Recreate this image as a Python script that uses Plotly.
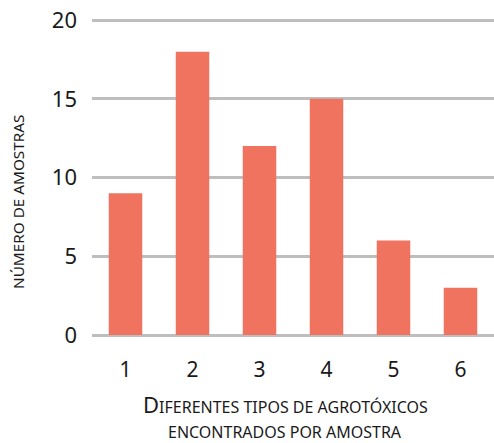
import plotly.graph_objects as go

categories = ["1", "2", "3", "4", "5", "6"]
values = [9, 18, 12, 15, 6, 3]
y_ticks = [0, 5, 10, 15, 20]

bar_color = "#F07360"
grid_color = "#BEBEBE"
text_color = "#1a1a1a"
font_family = "Noto Sans, Open Sans, sans-serif"

W, H = 494, 443
L, R, T, B = 92, 0, 17, 108
plot_w = W - L - R
plot_h = H - T - B
bottom = H - B

fig = go.Figure(go.Bar(x=categories, y=values, marker_color=bar_color,
                       marker_line_width=0, width=0.5, hoverinfo="skip"))

fig.update_layout(
    width=W, height=H,
    margin=dict(l=L, r=R, t=T, b=B),
    plot_bgcolor="white", paper_bgcolor="white",
    showlegend=False,
    font=dict(family=font_family, color=text_color),
    xaxis=dict(type="category", showgrid=False, zeroline=False, showline=False,
               ticks="", tickfont=dict(size=21, color=text_color), ticklabelstandoff=20),
    yaxis=dict(range=[0, 20.2], tickvals=y_ticks, showgrid=True, gridcolor=grid_color,
               gridwidth=3, zeroline=True, zerolinecolor=grid_color, zerolinewidth=3,
               showline=False, ticks="", tickfont=dict(size=22, color=text_color),
               ticklabelstandoff=14, automargin=False),
    annotations=[
        dict(text="NÚMERO DE AMOSTRAS", xref="paper", yref="paper",
             x=(18 - L) / plot_w, y=(bottom - 202) / plot_h, textangle=-90, showarrow=False,
             font=dict(size=15.3, color=text_color), xanchor="center", yanchor="middle"),
        dict(text="<span style='font-size:22px'>D</span>IFERENTES TIPOS DE AGROTÓXICOS",
             xref="paper", yref="paper", x=(285 - L) / plot_w, y=-(404 - bottom) / plot_h,
             showarrow=False, font=dict(size=16, color=text_color),
             xanchor="center", yanchor="middle"),
        dict(text="ENCONTRADOS POR AMOSTRA", xref="paper", yref="paper",
             x=(285 - L) / plot_w, y=-(432 - bottom) / plot_h, showarrow=False,
             font=dict(size=16, color=text_color), xanchor="center", yanchor="middle"),
    ],
)

fig.write_html("out.html", config={"displayModeBar": False},
               post_script="document.body.style.margin='0';document.body.style.overflow='hidden';")
